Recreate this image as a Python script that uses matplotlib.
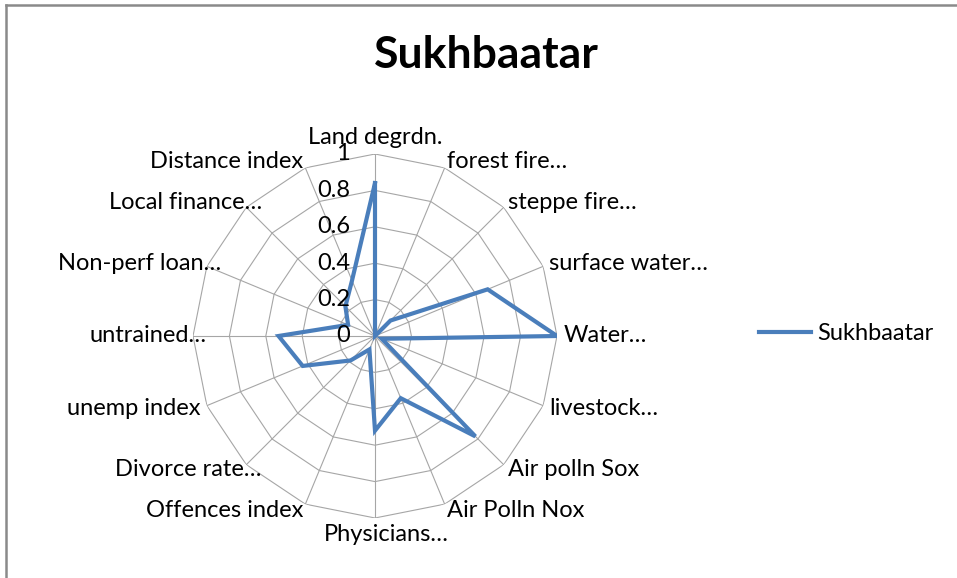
import numpy as np
import matplotlib
matplotlib.use("Agg")
import matplotlib.pyplot as plt
from matplotlib.lines import Line2D

categories = ["Land degrdn.", "forest fire\u2026", "steppe fire\u2026", "surface water\u2026",
              "Water\u2026", "livestock\u2026", "Air polln Sox", "Air Polln Nox",
              "Physicians\u2026", "Offences index", "Divorce rate\u2026", "unemp index",
              "untrained\u2026", "Non-perf loan\u2026", "Local finance\u2026", "Distance index"]
values = [0.84, 0.0, 0.12, 0.67, 1.0, 0.04, 0.78, 0.37,
          0.52, 0.08, 0.19, 0.43, 0.53, 0.16, 0.23, 0.33]
ticks = [0, 0.2, 0.4, 0.6, 0.8, 1.0]
tick_labels = ["0", "0.2", "0.4", "0.6", "0.8", "1"]
series_name = "Sukhbaatar"
title = "Sukhbaatar"

FONT = "Lato"
plt.rcParams['font.family'] = [FONT, 'DejaVu Sans']

W, H = 957, 578
fig = plt.figure(figsize=(W / 100, H / 100), dpi=100)
cx, cy, R = 375, 336, 182
ax = fig.add_axes([(cx - R) / W, (H - cy - R) / H, 2 * R / W, 2 * R / H], projection='polar')
ax.set_theta_zero_location('N')
ax.set_theta_direction(-1)
ax.set_ylim(0, 1)
ax.grid(False)
ax.spines['polar'].set_visible(False)
ax.set_xticks([])
ax.set_yticks([])
ax.patch.set_alpha(0)

n = len(categories)
theta = np.linspace(0, 2 * np.pi, n, endpoint=False)
grid_c = '#a6a6a6'
closed_t = np.append(theta, theta[0])
for v in ticks[1:]:
    ax.plot(closed_t, [v] * (n + 1), color=grid_c, lw=0.8, zorder=1)
for t in theta:
    ax.plot([t, t], [0, 1], color=grid_c, lw=0.8, zorder=1)

vals_closed = values + [values[0]]
line, = ax.plot(closed_t, vals_closed, color='#4a7ebb', lw=3.0, zorder=3,
                solid_joinstyle='miter', label=series_name)

# category labels (Excel shifts truncated labels by the ellipsis width)
for t, lab in zip(theta, categories):
    s, c = np.sin(t), np.cos(t)
    ha = 'left' if s > 0.01 else ('right' if s < -0.01 else 'center')
    if abs(s) < 0.01:
        va = 'bottom' if c > 0 else 'top'
    else:
        va = 'center'
    dx = 0.0
    if lab.endswith('\u2026'):
        if ha == 'right':
            dx = 20 * 0.72
        elif ha == 'center':
            dx = 11 * 0.72
    ax.annotate(lab, xy=(t, 1.035), xytext=(dx, 0), textcoords='offset points',
                ha=ha, va=va, fontsize=17, color='#000000', zorder=4,
                annotation_clip=False)

# radial tick labels
for v, tl in zip(ticks, tick_labels):
    ax.annotate(tl, xy=(0, v), xytext=(-18, 0), textcoords='offset points',
                ha='right', va='center', fontsize=17, color='#000000', zorder=5,
                annotation_clip=False)

fig.text(486 / W, 1 - 55 / H, title, ha='center', va='center', fontsize=32,
         fontweight='bold', color='#000000')

leg = fig.legend(handles=[line], labels=[series_name], loc='center left',
                 bbox_to_anchor=(759 / W, 1 - 334 / H), frameon=False,
                 borderpad=0, borderaxespad=0, handlelength=2.2, handletextpad=0.25,
                 fontsize=17)

# chart border (left and top visible)
fig.add_artist(Line2D([6 / W, 6 / W], [0, 1 - 5 / H], color='#8a8a8a', lw=1.8,
                      transform=fig.transFigure))
fig.add_artist(Line2D([6 / W, 1], [1 - 5 / H, 1 - 5 / H], color='#8a8a8a', lw=1.8,
                      transform=fig.transFigure))

fig.savefig('out.png', dpi=100)
